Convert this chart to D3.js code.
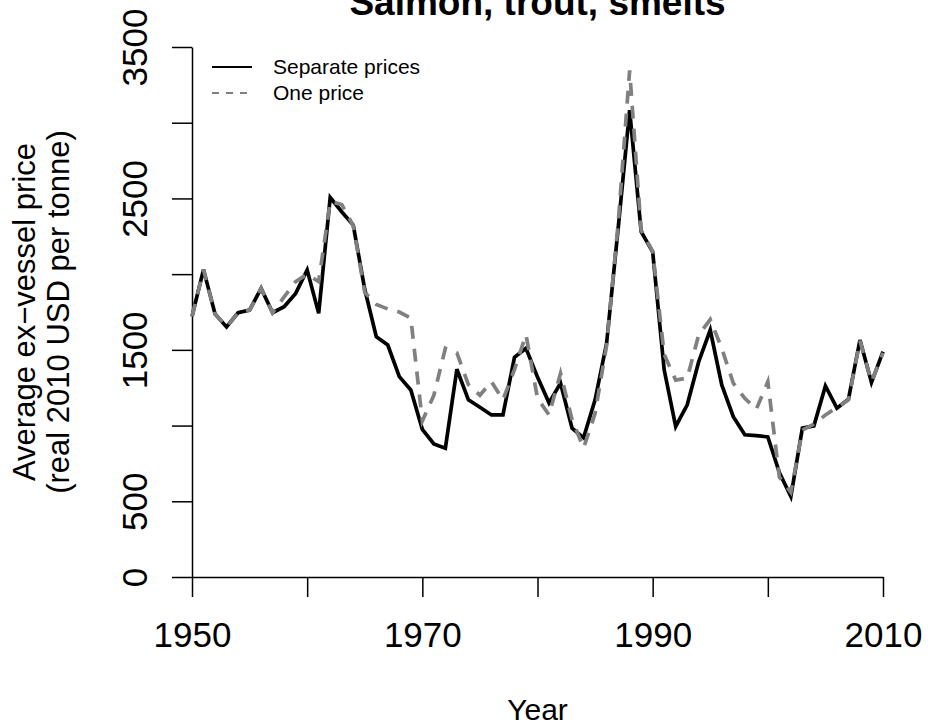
<!DOCTYPE html>
<html>
  <head>
    <meta charset="utf-8">
    <title>Salmon, trout, smelts</title>
    <script src="https://d3js.org/d3.v7.min.js"></script>
    <style>
      body { margin: 0; background: #fff; }
      text { font-family: "Liberation Sans", Arial, sans-serif; }
    </style>
  </head>
  <body>
    <script>
      var years = d3.range(1950, 2011);
      var separatePrices = [
        1720, 2030, 1737, 1651, 1745, 1763, 1906, 1745, 1785, 1873,
        2027, 1741, 2506, 2412, 2324, 1900, 1587, 1532, 1323, 1235,
        975, 879, 851, 1372, 1170, 1121, 1070, 1070, 1451, 1511,
        1320, 1150, 1280, 983, 919, 1170, 1543, 2300, 3082, 2280,
        2148, 1368, 994, 1137, 1422, 1631, 1268, 1059, 939, 934,
        925, 690, 532, 983, 998, 1262, 1115, 1174, 1565, 1284,
        1488
      ];
      var onePrice = [
        1720, 2030, 1737, 1651, 1745, 1763, 1906, 1745, 1850, 1950,
        2000, 1950, 2480, 2460, 2320, 1880, 1800, 1770, 1750, 1710,
        1030, 1200, 1510, 1480, 1270, 1200, 1290, 1170, 1370, 1600,
        1180, 1070, 1345, 1040, 852, 1080, 1530, 2330, 3346, 2290,
        2150, 1470, 1300, 1314, 1600, 1700, 1510, 1280, 1180, 1108,
        1290, 660, 560, 970, 1010, 1070, 1120, 1170, 1560, 1290,
        1480
      ];
      var xTicks = [1950, 1960, 1970, 1980, 1990, 2000, 2010];
      var xLabels = [1950, 1970, 1990, 2010];
      var yTicks = [0, 500, 1000, 1500, 2000, 2500, 3000, 3500];
      var yLabels = [0, 500, 1500, 2500, 3500];
      var legendNames = ["Separate prices", "One price"];

      var width = 928, height = 726;
      // plot region (window.top is read-only, so no "top" here)
      var plotLeft = 192, plotRight = 883, plotTop = 47, plotBottom = 577;

      var svg = d3.select("body").append("svg")
        .attr("width", width)
        .attr("height", height);

      var x = d3.scaleLinear().domain([1950, 2010]).range([plotLeft, plotRight]);
      var y = d3.scaleLinear().domain([0, 3500]).range([plotBottom, plotTop]);

      // x axis: ticks every 10 years, R drops the crowded labels
      var xAxis = svg.append("g")
        .attr("transform", "translate(0," + plotBottom + ")")
        .call(d3.axisBottom(x).tickValues(xTicks).tickSize(20).tickSizeOuter(0)
          .tickFormat(function(d) { return xLabels.indexOf(d) >= 0 ? d : ""; }));
      xAxis.selectAll("text")
        .attr("dy", 0)
        .attr("y", 70)
        .style("font-size", "35px")
        .attr("fill", "#000");

      var yAxis = svg.append("g")
        .attr("transform", "translate(" + plotLeft + ",0)")
        .call(d3.axisLeft(y).tickValues(yTicks).tickSize(20).tickSizeOuter(0)
          .tickFormat(function(d) { return yLabels.indexOf(d) >= 0 ? d : ""; }));
      yAxis.selectAll("text")
        .attr("x", null).attr("dy", 0)
        .attr("text-anchor", "middle")
        .attr("transform", "translate(-45,0) rotate(-90)")
        .style("font-size", "35px")
        .attr("fill", "#000");

      svg.selectAll(".domain, .tick line")
        .attr("stroke", "#000")
        .attr("stroke-width", 1.5);

      var line = d3.line()
        .x(function(d, i) { return x(years[i]); })
        .y(function(d) { return y(d); });

      svg.append("path")
        .datum(separatePrices)
        .attr("d", line)
        .attr("fill", "none")
        .attr("stroke", "#000")
        .attr("stroke-width", 3.7)
        .attr("stroke-linejoin", "miter");

      svg.append("path")
        .datum(onePrice)
        .attr("d", line)
        .attr("fill", "none")
        .attr("stroke", "#808080")
        .attr("stroke-width", 3.7)
        .attr("stroke-dasharray", "13,10");

      // legend, top left, no box
      var legend = svg.append("g");
      legendNames.forEach(function(name, i) {
        var ly = 67 + i * 26;
        legend.append("line")
          .attr("x1", 212).attr("x2", 252)
          .attr("y1", ly).attr("y2", ly)
          .attr("stroke", i == 0 ? "#000" : "#808080")
          .attr("stroke-width", 2)
          .attr("stroke-dasharray", i == 0 ? null : "7,7");
        legend.append("text")
          .attr("x", 273).attr("y", ly + 7)
          .style("font-size", "21px")
          .text(name);
      });

      svg.append("text")
        .attr("x", (plotLeft + plotRight) / 2).attr("y", 15)
        .attr("text-anchor", "middle")
        .style("font-size", "37px")
        .style("font-weight", "bold")
        .text("Salmon, trout, smelts");

      svg.append("text")
        .attr("x", (plotLeft + plotRight) / 2).attr("y", 720)
        .attr("text-anchor", "middle")
        .style("font-size", "30px")
        .text("Year");

      var yTitle = ["Average ex\u2212vessel price", "(real 2010 USD per tonne)"];
      yTitle.forEach(function(t, i) {
        svg.append("text")
          .attr("transform", "translate(" + (35 + i * 34) + "," + (plotTop + plotBottom) / 2 + ") rotate(-90)")
          .attr("text-anchor", "middle")
          .style("font-size", "31px")
          .text(t);
      });
    </script>
  </body>
</html>
